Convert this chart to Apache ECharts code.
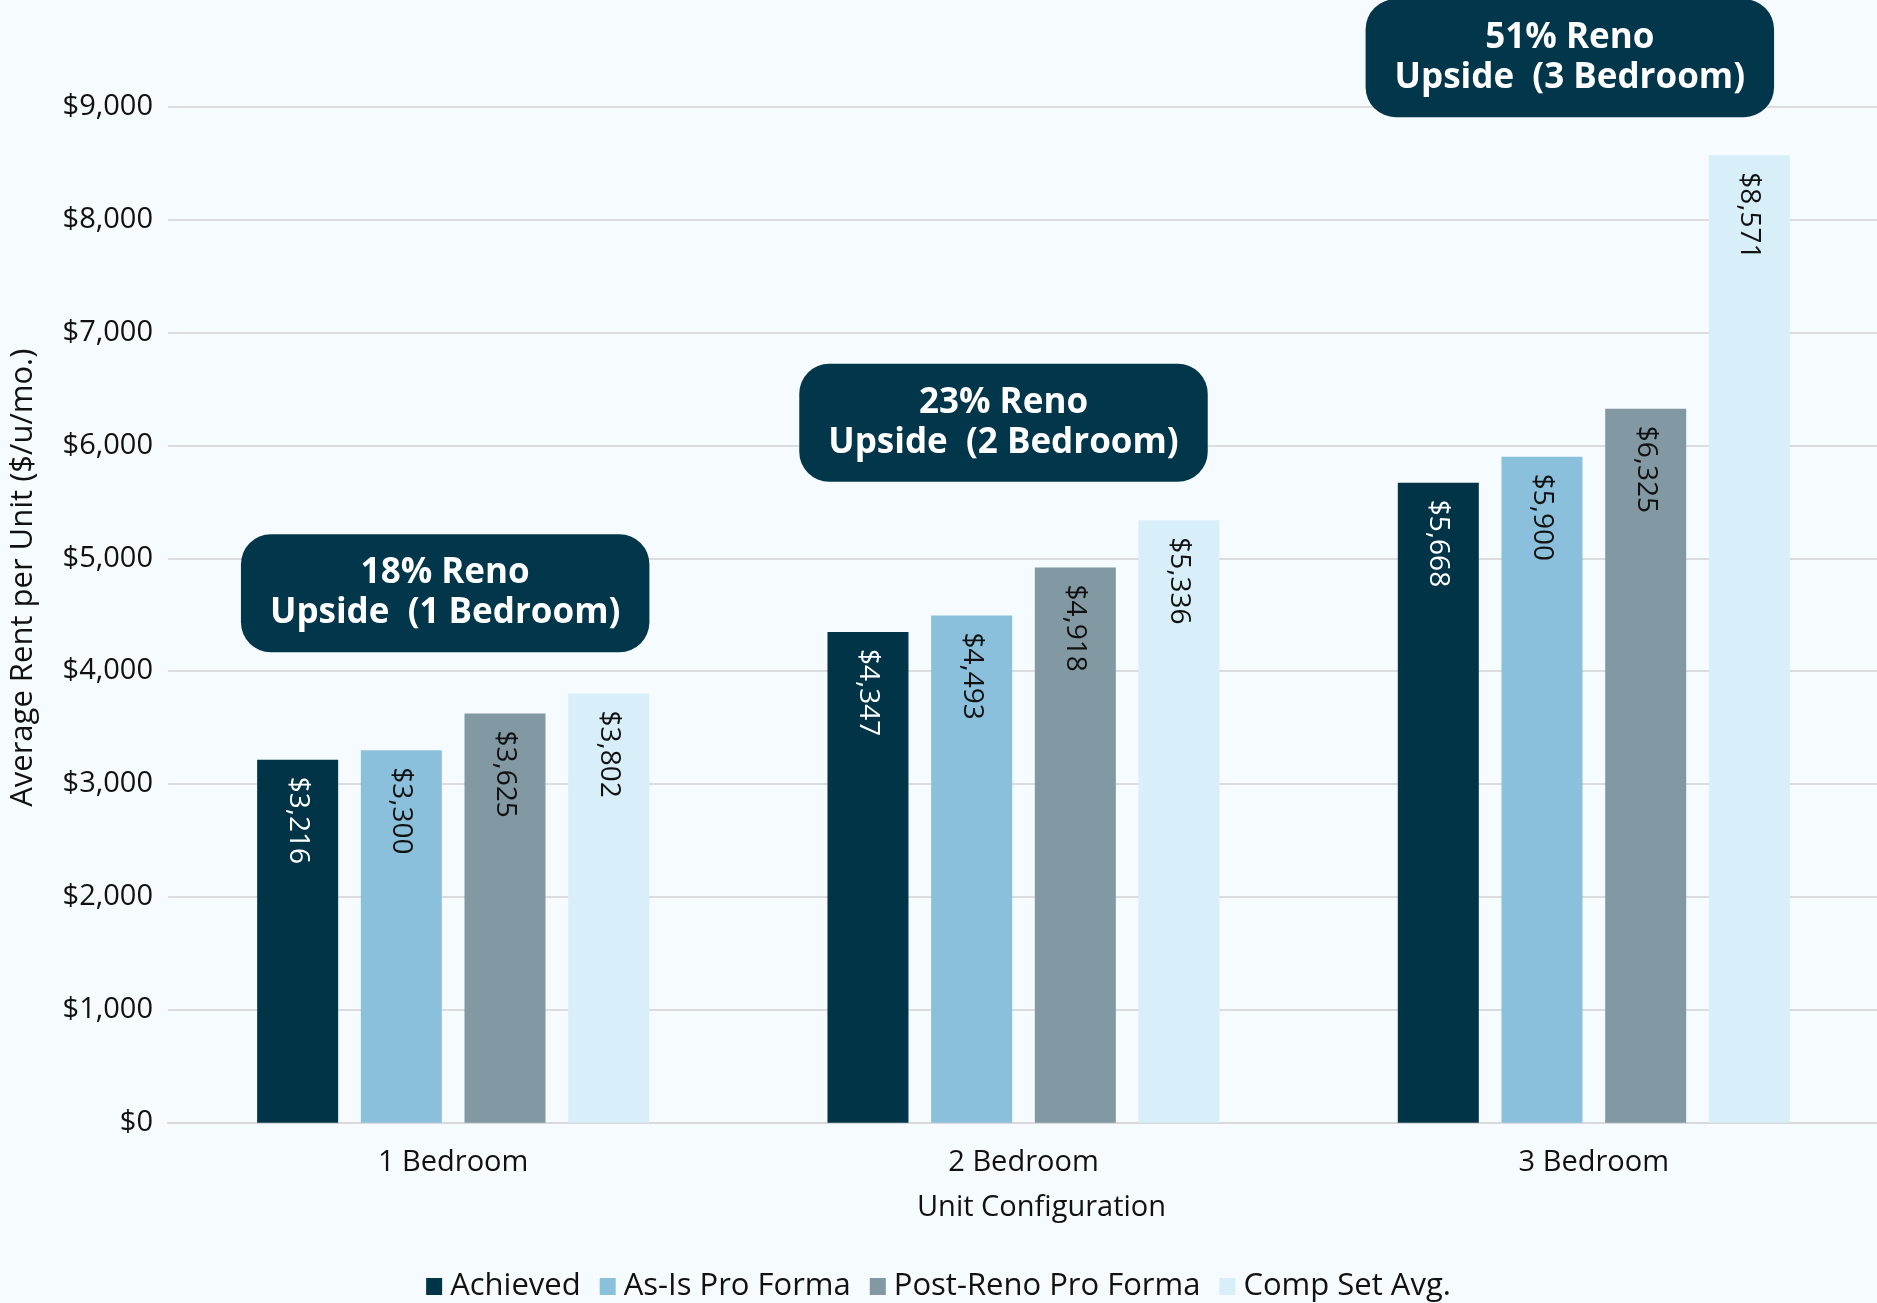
<!DOCTYPE html>
<html>
<head>
<meta charset="utf-8">
<title>Average Rent per Unit by Unit Configuration</title>
<script src="https://cdn.jsdelivr.net/npm/echarts@6/dist/echarts.min.js"></script>
<style>
  html, body { margin: 0; padding: 0; background: #f5fbfe; }
  #chart { width: 1877px; height: 1303px; }
</style>
</head>
<body>
<div id="chart"></div>
<script>
// Unit types along the x axis
const categories = ['1 Bedroom', '2 Bedroom', '3 Bedroom'];

// Monthly rent per unit, one array per rent scenario
const achieved = [3216, 4347, 5668];
const asIsProForma = [3300, 4493, 5900];
const postRenoProForma = [3625, 4918, 6325];
const compSetAvg = [3802, 5336, 8571];

const seriesNames = ['Achieved', 'As-Is Pro Forma', 'Post-Reno Pro Forma', 'Comp Set Avg.'];

// Value-axis ticks
const yTicks = [0, 1000, 2000, 3000, 4000, 5000, 6000, 7000, 8000, 9000];

// Height (in rent units) at which each upside callout sits above its group
const calloutLevels = [4690, 6200, 9430];

const FONT = '"Open Sans", "Noto Sans", sans-serif';
const colors = ['#023447', '#8ac0db', '#8299a3', '#d8eef8'];
const labelColors = ['#ffffff', '#111111', '#111111', '#111111'];

const money = v => '$' + v.toLocaleString('en-US');

const chart = echarts.init(document.getElementById('chart'), null, { renderer: 'canvas' });

const seriesData = [achieved, asIsProForma, postRenoProForma, compSetAvg];

const option = {
  backgroundColor: '#f5fbfe',
  animation: false,
  textStyle: { fontFamily: FONT },
  grid: {
    left: 168, top: 106.7, width: 1711, height: 1016,
    containLabel: false, outerBoundsMode: 'none'
  },
  legend: {
    data: seriesNames,
    left: 'center',
    top: 1266,
    icon: 'rect',
    itemWidth: 16,
    itemHeight: 17,
    itemGap: 19,
    textStyle: { fontFamily: FONT, fontSize: 31, color: '#111', padding: [0, 0, 0, 3] }
  },
  xAxis: {
    type: 'category',
    data: categories,
    axisTick: { show: false },
    axisLine: { lineStyle: { color: '#d9d9d9', width: 2 } },
    axisLabel: { fontFamily: FONT, fontSize: 29, color: '#111', margin: 26 },
    name: 'Unit Configuration',
    nameLocation: 'middle',
    nameGap: 71,
    nameTextStyle: { fontFamily: FONT, fontSize: 29, color: '#111', padding: [0, 0, 0, 36] }
  },
  yAxis: {
    type: 'value',
    min: yTicks[0],
    max: yTicks[yTicks.length - 1],
    interval: yTicks[1] - yTicks[0],
    axisLine: { show: false },
    axisTick: { show: false },
    splitLine: { lineStyle: { color: '#dcdcdc', width: 2 } },
    axisLabel: {
      fontFamily: FONT, fontSize: 29, color: '#111', margin: 15,
      formatter: v => money(v)
    },
    name: 'Average Rent per Unit ($/u/mo.)',
    nameLocation: 'middle',
    nameGap: 129,
    nameTextStyle: { fontFamily: FONT, fontSize: 31, color: '#111', padding: [0, 0, 0, 74] }
  },
  series: seriesData.map((data, i) => ({
    name: seriesNames[i],
    type: 'bar',
    data: data,
    barWidth: 81,
    barGap: '28%',
    itemStyle: { color: colors[i] },
    label: {
      show: true,
      position: 'insideTop',
      rotate: -90,
      align: 'left',
      verticalAlign: 'middle',
      distance: 17,
      fontFamily: FONT,
      fontSize: 28,
      color: labelColors[i],
      formatter: p => money(p.value)
    }
  }))
};

chart.setOption(option);

// Upside callouts: Comp Set Avg. over Achieved, one per unit type
const calloutShift = [-8, -20, -24];
const graphics = categories.map((cat, i) => {
  const pct = Math.round((compSetAvg[i] / achieved[i] - 1) * 100);
  const cx = chart.convertToPixel({ xAxisIndex: 0 }, i) + calloutShift[i];
  const cy = chart.convertToPixel({ yAxisIndex: 0 }, calloutLevels[i]);
  return {
    type: 'text',
    x: cx,
    y: cy,
    style: {
      text: pct + '% Reno\nUpside  (' + cat + ')',
      fill: '#ffffff',
      font: 'bold 35px ' + FONT,
      lineHeight: 40,
      align: 'center',
      verticalAlign: 'middle',
      backgroundColor: '#02364a',
      borderRadius: 30,
      padding: [19, 29, 19, 29]
    }
  };
});

chart.setOption({ graphic: graphics });
</script>
</body>
</html>
